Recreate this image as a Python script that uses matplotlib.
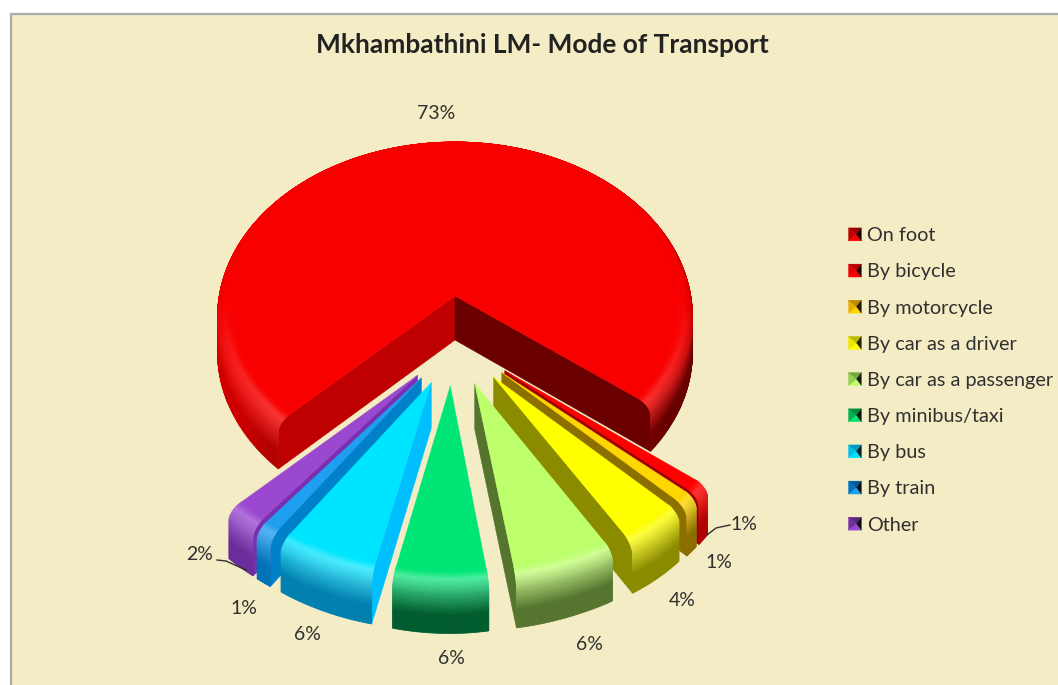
import numpy as np
import matplotlib
matplotlib.use("Agg")
import matplotlib.pyplot as plt
from matplotlib.collections import PolyCollection
from matplotlib.colors import to_rgb
from matplotlib.legend_handler import HandlerBase
from matplotlib.patches import Polygon, Rectangle

# ---- data -------------------------------------------------------------
title = "Mkhambathini LM- Mode of Transport"
categories = ["On foot", "By bicycle", "By motorcycle", "By car as a driver",
              "By car as a passenger", "By minibus/taxi", "By bus", "By train", "Other"]
values = [73, 1, 1, 4, 6, 6, 6, 1, 2]

# ---- styles -----------------------------------------------------------
top_colors = ["#F80000", "#FF0000", "#FFD700", "#FFFF00", "#BEFF6E",
              "#00E676", "#00E5FF", "#1E9FEF", "#9A48D0"]
rim_dark = [None, "#B00000", "#8B7000", "#8B8B00", "#55752F",
            "#005C2E", "#0080B0", "#0072B8", "#6A2C9C"]
start_face = ["#BE0000", "#A00000", "#8B7000", "#8B8B00", "#55752F",
              "#007A3D", "#00BFFF", "#0080C8", "#7A2FB0"]
end_face = ["#6B0000", "#A00000", "#8B7000", "#8B8B00", "#55752F",
            "#007A3D", "#00BFFF", "#0080C8", "#7A2FB0"]
legend_colors = ["#C00000", "#E80000", "#E8B000", "#E8E800", "#92D050",
                 "#00B050", "#00C0F0", "#0070C0", "#7030A0"]
BG = "#F3ECC4"
TEXT = "#303030"
label_xy = [(436, 113), (744, 524), (719, 563), (682, 601), (589, 645),
            (451, 658), (307, 635), (244, 608), (200, 555)]

# ---- projection -------------------------------------------------------
CX, CY, RX, RY, K, DEPTH = 455, 296, 237, 167, 0.07, 44
START = -134.9      # clockwise from the back of the pie
BEVEL = 0.06
OUTER = 1.02
BIG_X = 0.98        # the large slice is drawn a little narrower
SMALL_DX = -3


def project(u, v, h=0.0, exploded=False):
    s = 1.0 / (1.0 - K * v)
    u = np.asarray(u, dtype=float)
    if exploded:
        right = np.minimum(0.90 + 0.15 * u, 0.99 - 0.06 * np.maximum(u - 0.6, 0))
        f = np.where(u > 0, right, 0.96 + 0.04 * np.abs(u))
        x = CX + SMALL_DX + RX * u * f * s
    else:
        x = CX + RX * BIG_X * u * s
    return x, CY + RY * v * s + h * DEPTH * s


def rim_shade(phi):
    return np.interp(phi, [-130, -60, -30, 0, 20, 35, 60, 130],
                     [0.9, 0.82, 0.6, 0.38, 0.42, 0.55, 0.42, 0.42])


fig = plt.figure(figsize=(10.58, 6.85), dpi=100, facecolor="white")
ax = fig.add_axes([0, 0, 1, 1])
ax.set_xlim(0, 1058)
ax.set_ylim(685, 0)
ax.axis("off")
ax.add_patch(Rectangle((11, 14), 1060, 690, fc=BG, ec="#ABABAB", lw=1.6, zorder=0))

# rows of the rounded rim: (radius, height, position down the rim)
th = np.linspace(0, np.pi / 2, 16)
row_r = np.r_[OUTER - BEVEL + BEVEL * np.sin(th), np.full(24, OUTER)]
row_h = np.r_[0.2 * (1 - np.cos(th)), np.linspace(0.2, 1, 25)[1:]]
row_t = np.linspace(0, 1, len(row_r))


def rim_color(i, phi, t):
    base = np.array(to_rgb(top_colors[i]))
    dark = base * rim_shade(phi) if rim_dark[i] is None else np.array(to_rgb(rim_dark[i]))
    front = max(np.cos(np.radians(phi)), 0.5)
    if i == 0:
        front = np.clip(np.cos(np.radians(phi)), 0, 1)
    hi = base + (1 - base) * 0.3 * front
    if t < 0.12:
        c = base + (hi - base) * (t / 0.12)
    elif t < 0.7:
        w = (t - 0.12) / 0.58
        c = hi * (1 - w) + dark * w
    else:
        c = dark
    return np.clip(c, 0, 1)


def slice_art(i, a0, a1, exploded):
    mid = 0.5 * (a0 + a1)
    phi_mid = 180 - mid
    if exploded:
        pull = 0.30 if phi_mid > 0 else 0.22
        u0 = pull * np.sin(np.radians(phi_mid))
        v0 = 0.28 + 0.24 * np.cos(np.radians(phi_mid))
    else:
        u0, v0 = 0.0, 0.0
    ang = np.radians(np.linspace(a0, a1, max(8, int((a1 - a0) * 1.5))))
    su, sv = np.sin(ang), -np.cos(ang)

    def ring(r, h):
        return np.column_stack(project(u0 + r * su, v0 + r * sv, h, exploded))

    def edge(alpha):
        ua, va = np.sin(np.radians(alpha)), -np.cos(np.radians(alpha))
        pts = [project(u0, v0, 0, exploded)]
        pts += [project(u0 + r * ua, v0 + r * va, h, exploded) for r, h in zip(row_r, row_h)]
        pts += [project(u0, v0, 1, exploded)]
        return [(float(a), float(b)) for a, b in pts]

    # radial faces that turn towards the viewer
    if -np.sin(np.radians(a0)) > 0:
        ax.add_patch(Polygon(edge(a0), closed=True, fc=start_face[i], ec=start_face[i], lw=0.4))
    if np.sin(np.radians(a1)) > 0:
        ax.add_patch(Polygon(edge(a1), closed=True, fc=end_face[i], ec=end_face[i], lw=0.4))

    # rim strips, lowest first
    quads, cols = [], []
    for k in range(len(row_r) - 2, -1, -1):
        upper = ring(row_r[k], row_h[k])
        lower = ring(row_r[k + 1], row_h[k + 1])
        for j in range(len(ang) - 1):
            quads.append([upper[j], upper[j + 1], lower[j + 1], lower[j]])
            phi = 180 - np.degrees(0.5 * (ang[j] + ang[j + 1]))
            phi = (phi + 180) % 360 - 180
            cols.append(rim_color(i, phi, 0.5 * (row_t[k] + row_t[k + 1])))
    ax.add_collection(PolyCollection(quads, facecolors=cols, edgecolors=cols, linewidths=0.5))

    # flat top
    apex = [tuple(float(q) for q in project(u0, v0, 0, exploded))]
    top = np.vstack([apex, ring(row_r[0], 0)])
    ax.add_patch(Polygon(top, closed=True, fc=top_colors[i], ec=top_colors[i], lw=0.3))


# slice angles come from the values
total = float(sum(values))
edges = START + np.r_[0, np.cumsum(values)] * 360.0 / total
mids = 0.5 * (edges[:-1] + edges[1:])
slice_art(0, edges[0], edges[1], False)
order = sorted(range(1, len(values)), key=lambda n: np.cos(np.radians(180 - mids[n])))
for n in order:
    slice_art(n, edges[n], edges[n + 1], True)

# percentage labels and their two leader lines
for v, (x, y) in zip(values, label_xy):
    ax.text(x, y, f"{v}%", ha="center", va="center", fontsize=14,
            family="Lato", color=TEXT)
ax.plot([707, 716, 730], [535, 528, 525], color="#303030", lw=1)
ax.plot([217, 226, 246], [560, 561, 570], color="#303030", lw=1)

ax.text(542, 44.5, title, ha="center", va="center", fontsize=18.9,
        family="Lato", weight="bold", color="#222222")


# legend keys: small square pyramids, as in the spreadsheet chart
class PyramidHandler(HandlerBase):
    def create_artists(self, legend, orig, xd, yd, w, h, fontsize, trans):
        base = np.array(to_rgb(orig.get_facecolor()[:3]))
        bright = np.array(to_rgb(orig.get_edgecolor()[:3]))
        s = 13.0 * 0.72
        x0, y0 = (w - s) / 2 - xd, (h - s) / 2 - yd
        c = (x0 + s * 0.62, y0 + s / 2)
        ll, lr, ur, ul = (x0, y0), (x0 + s, y0), (x0 + s, y0 + s), (x0, y0 + s)
        tris = [((ll, lr, c), bright), ((ul, ll, c), base),
                ((ur, ul, c), base * 0.8), ((lr, ur, c), base * 0.15)]
        return [Polygon(p, closed=True, fc=col, ec=col, lw=0.2, transform=trans)
                for p, col in tris]


handles = [Rectangle((0, 0), 1, 1, fc=c, ec=b) for c, b in zip(legend_colors, top_colors)]
leg = ax.legend(handles, categories, loc="upper left",
                bbox_to_anchor=(845 / 1058, 1 - 225.5 / 685), frameon=False,
                prop={"family": "Lato", "size": 14.3}, labelcolor=TEXT,
                handler_map={Rectangle: PyramidHandler()},
                handlelength=1.0, handleheight=1.0, handletextpad=0.1,
                labelspacing=0.88, borderaxespad=0, borderpad=0)

fig.savefig("out.png", dpi=100, facecolor="white")
